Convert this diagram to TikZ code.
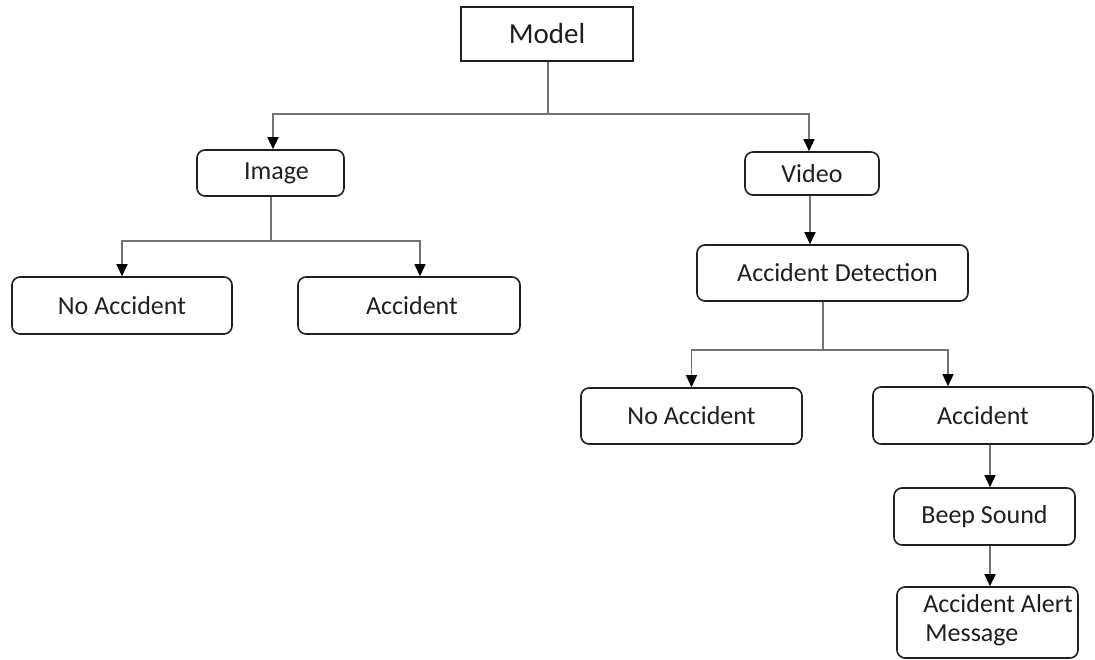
\documentclass[tikz,border=0pt]{standalone}
\usepackage{fontspec}
\setmainfont{Carlito}
\usetikzlibrary{arrows.meta,calc}
\begin{document}
\begin{tikzpicture}[x=1pt,y=-1pt,
  rbox/.style={draw=black!88, line width=1.6pt, rounded corners=8pt, inner sep=0pt, font=\fontsize{26}{29}\selectfont, text=black!88},
  sbox/.style={draw=black!88, line width=2pt, inner sep=0pt, font=\fontsize{29}{33}\selectfont, text=black!88},
  conn/.style={draw=black!55, line width=1.3pt},
  arr/.style={conn, -{Triangle[length=12pt,width=11pt,black]}}]
\useasboundingbox (0,0) rectangle (1095,660);
% nodes
\node[sbox, minimum width=172, minimum height=54] (model) at (547,34) {Model};
\node[rbox, minimum width=147, minimum height=46] (image) at (270.5,173) {\hspace*{12pt}Image};
\node[rbox, minimum width=134, minimum height=43] (video) at (812,173.5) {Video};
\node[rbox, minimum width=220, minimum height=57] (noacc1) at (122,305.5) {No Accident};
\node[rbox, minimum width=222, minimum height=57] (acc1) at (409,305.5) {\hspace*{6pt}Accident};
\node[rbox, minimum width=271, minimum height=56] (accdet) at (832.5,273) {\hspace*{10pt}Accident Detection};
\node[rbox, minimum width=221, minimum height=56] (noacc2) at (691.5,416) {No Accident};
\node[rbox, minimum width=220, minimum height=57] (acc2) at (983,415.5) {Accident};
\node[rbox, minimum width=181, minimum height=57] (beep) at (984.5,516.5) {Beep Sound};
\node[rbox, minimum width=181, minimum height=71] (alert) at (987.5,622.5) {};
\node[anchor=west, align=left, inner sep=0pt, font=\fontsize{26}{29}\selectfont, text=black!88] (alerttxt) at ([xshift=27pt,yshift=2pt]alert.west) {Accident Alert\\\hspace*{2pt}Message};
% junctions
\coordinate (j1) at (548,114);
\coordinate (j2) at (271,241);
\coordinate (j3) at (823,350);
% connectors
\draw[conn] (model.south -| j1) -- (j1);
\draw[arr] (j1) -| (image.north -| 273,0);
\draw[arr] (j1) -| (video.north -| 809,0);
\draw[conn] (image.south -| j2) -- (j2);
\draw[arr] (j2) -| (noacc1.north);
\draw[arr] (j2) -| (acc1.north -| 420,0);
\draw[arr] (video.south -| 810,0) -- (accdet.north -| 810,0);
\draw[conn] (accdet.south -| j3) -- (j3);
\draw[arr] (j3) -| (noacc2.north);
\draw[arr] (j3) -| (acc2.north -| 948,0);
\draw[arr] (acc2.south -| 990,0) -- (beep.north -| 990,0);
\draw[arr] (beep.south -| 990,0) -- (alert.north -| 990,0);
\end{tikzpicture}
\end{document}
